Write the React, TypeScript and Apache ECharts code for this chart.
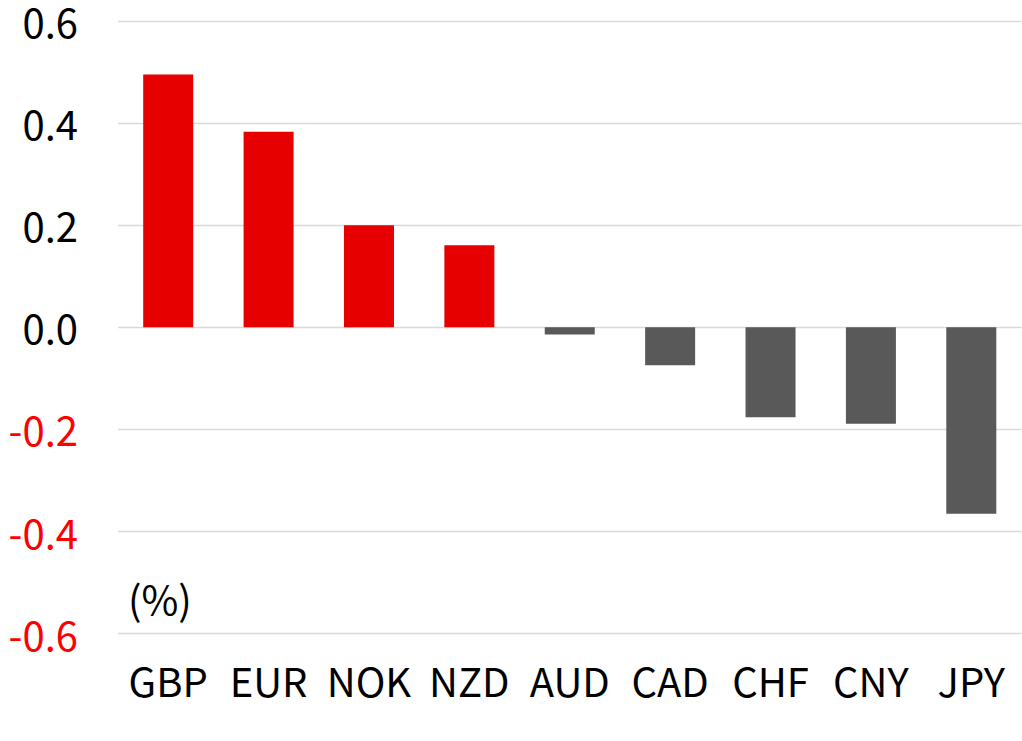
import React, { useEffect, useRef } from "react";
import * as echarts from "echarts";

const categories = ["GBP", "EUR", "NOK", "NZD", "AUD", "CAD", "CHF", "CNY", "JPY"];
const values = [0.495, 0.383, 0.2, 0.161, -0.014, -0.074, -0.176, -0.189, -0.365];
const yMin = -0.6;
const yMax = 0.6;
const yStep = 0.2;
const unitLabel = "(%)";

const FONT = "'Noto Sans CJK JP', 'Noto Sans', sans-serif";
const RED_BAR = "#E60000";
const GRAY_BAR = "#595959";
const RED_TEXT = "#FF0000";

export default function App() {
  const ref = useRef<HTMLDivElement>(null);
  useEffect(() => {
    if (!ref.current) return;
    const chart = echarts.init(ref.current, undefined, { renderer: "svg" });
    chart.setOption({
      animation: false,
      backgroundColor: "#ffffff",
      grid: { left: 118, right: 0.5, top: 21, bottom: 107.3, containLabel: false },
      xAxis: {
        type: "category",
        data: categories,
        axisLine: { show: false },
        axisTick: { show: false },
        axisLabel: {
          color: "#000000",
          fontSize: 40,
          fontFamily: FONT,
          margin: 26,
          interval: 0,
        },
      },
      yAxis: {
        type: "value",
        min: yMin,
        max: yMax,
        interval: yStep,
        axisLine: { show: false },
        axisTick: { show: false },
        splitLine: { lineStyle: { color: "#D9D9D9", width: 1.3 } },
        axisLabel: {
          fontSize: 40,
          lineHeight: 38,
          fontFamily: FONT,
          margin: 40,
          formatter: (v: number) => (Math.abs(v) < 1e-9 ? 0 : v).toFixed(1),
          color: (v: any) => (Number(v) < -1e-9 ? RED_TEXT : "#000000"),
        },
      },
      graphic: [
        {
          type: "text",
          left: 128,
          top: 578,
          style: { text: unitLabel, fontSize: 40, fontFamily: FONT, fill: "#000000" },
        },
      ],
      series: [
        {
          type: "bar",
          barWidth: 50,
          data: values.map((v) => ({
            value: v,
            itemStyle: { color: v >= 0 ? RED_BAR : GRAY_BAR },
          })),
        },
      ],
    });
    return () => chart.dispose();
  }, []);
  return (
    <div
      ref={ref}
      style={{ position: "fixed", left: 0, top: 0, width: 1022, height: 741 }}
    />
  );
}
